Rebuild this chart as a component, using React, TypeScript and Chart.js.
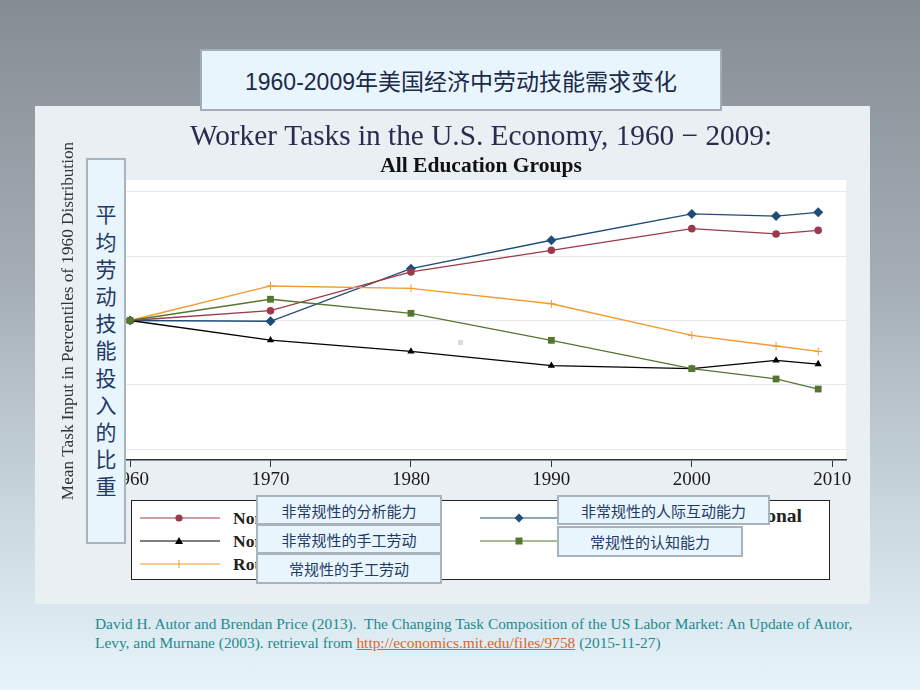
import React, { useEffect, useRef } from "react";
import { Chart, registerables } from "chart.js";

Chart.register(...registerables);

// ---- data ----
const years = [1960, 1970, 1980, 1990, 2000, 2006, 2009];
const nonroutineAnalytic = [50, 50.76, 53.77, 55.45, 57.13, 56.72, 57.0];
const nonroutineInterpersonal = [50, 49.94, 54.02, 56.23, 58.27, 58.11, 58.4];
const routineCognitive = [50, 51.65, 50.56, 48.46, 46.26, 45.46, 44.68];
const routineManual = [50, 52.68, 52.5, 51.3, 48.85, 48.02, 47.6];
const nonroutineManual = [50, 48.48, 47.6, 46.49, 46.26, 46.9, 46.62];
const xTickValues = [1960, 1970, 1980, 1990, 2000, 2010];
const yTickValues = [40, 45, 50, 55, 60];

const chartTitle = "Worker Tasks in the U.S. Economy, 1960 \u2212 2009:";
const chartSubtitle = "All Education Groups";
const yAxisTitle = "Mean Task Input in Percentiles of 1960 Distribution";
const slideTitle = "1960-2009年美国经济中劳动技能需求变化";
const sideLabel = "平均劳动技能投入的比重";

const seriesNames = {
  analytic: "Nonroutine Analytic",
  interpersonal: "Nonroutine Interpersonal",
  nrManual: "Nonroutine Manual",
  cognitive: "Routine Cognitive",
  rManual: "Routine Manual",
};

const COLORS = {
  analytic: "#9b3a4a",
  interpersonal: "#1f4c78",
  nrManual: "#000000",
  cognitive: "#55762f",
  rManual: "#f29a2e",
};

const toPoints = (vals: number[]) => vals.map((v, i) => ({ x: years[i], y: v }));

const serifFont = "'Liberation Serif', 'Times New Roman', serif";
const cjkFont = "'Liberation Sans', 'Noto Sans CJK SC', sans-serif";

function LegendSample({ color, shape }: { color: string; shape: string }) {
  let marker: React.ReactNode = null;
  if (shape === "circle") marker = <circle cx={39} cy={8} r={3.6} fill={color} />;
  if (shape === "diamond") marker = <polygon points="39,3.5 43.5,8 39,12.5 34.5,8" fill={color} />;
  if (shape === "triangle") marker = <polygon points="39,4 43,11 35,11" fill={color} />;
  if (shape === "square") marker = <rect x={35.5} y={4.5} width={7} height={7} fill={color} />;
  if (shape === "plus")
    marker = <line x1={39} y1={4} x2={39} y2={12} stroke={color} strokeWidth={1} />;
  return (
    <svg width={80} height={16} style={{ display: "block" }}>
      <line x1={0} y1={8} x2={80} y2={8} stroke={color} strokeWidth={1.2} />
      {marker}
    </svg>
  );
}

const cnBox: React.CSSProperties = {
  position: "absolute",
  boxSizing: "border-box",
  background: "#e9f5fd",
  border: "2px solid #a9b3bb",
  color: "#1f3a64",
  fontFamily: cjkFont,
  display: "flex",
  alignItems: "center",
  justifyContent: "center",
};

const legendText: React.CSSProperties = {
  fontFamily: serifFont,
  fontWeight: "bold",
  fontSize: 17.5,
  color: "#222222",
  lineHeight: "16px",
  whiteSpace: "nowrap",
};

export default function App() {
  const canvasRef = useRef<HTMLCanvasElement | null>(null);

  useEffect(() => {
    if (!canvasRef.current) return;
    const plotBg = {
      id: "plotBg",
      beforeDraw(chart: any) {
        const { ctx, chartArea } = chart;
        ctx.save();
        ctx.fillStyle = "#ffffff";
        ctx.fillRect(chartArea.left, chartArea.top - 2, chartArea.right - chartArea.left, chartArea.bottom - chartArea.top + 2);
        ctx.restore();
      },
    };
    const mk = (label: string, data: number[], color: string, pointStyle: string, radius: number) => ({
      label,
      data: toPoints(data),
      borderColor: color,
      backgroundColor: color,
      pointBackgroundColor: color,
      pointBorderColor: color,
      borderWidth: 1.3,
      pointStyle,
      pointRadius: radius,
      pointBorderWidth: pointStyle === "cross" ? 1 : 0,
      tension: 0,
      fill: false,
    });
    const chart = new Chart(canvasRef.current, {
      type: "line",
      data: {
        datasets: [
          mk(seriesNames.cognitive, routineCognitive, COLORS.cognitive, "rect", 4.8),
          mk(seriesNames.nrManual, nonroutineManual, COLORS.nrManual, "triangle", 4.2),
          mk(seriesNames.rManual, routineManual, COLORS.rManual, "cross", 4),
          mk(seriesNames.analytic, nonroutineAnalytic, COLORS.analytic, "circle", 3.8),
          mk(seriesNames.interpersonal, nonroutineInterpersonal, COLORS.interpersonal, "rectRot", 5),
        ] as any,
      },
      options: {
        responsive: false,
        animation: false,
        devicePixelRatio: 1,
        layout: { padding: 0 },
        plugins: {
          legend: { display: false },
          tooltip: { enabled: false },
          title: {
            display: true,
            text: chartTitle,
            color: "#2b2b4f",
            font: { family: serifFont, size: 29.3, weight: "normal", lineHeight: 1.1 },
            padding: { top: 15, bottom: 0 },
          },
          subtitle: {
            display: true,
            text: chartSubtitle,
            color: "#111111",
            font: { family: serifFont, size: 21.5, weight: "bold", lineHeight: 1.2 },
            padding: { top: 0, bottom: 3 },
          },
        },
        scales: {
          x: {
            type: "linear",
            min: 1959.64,
            max: 2010.98,
            afterBuildTicks: (s: any) => {
              s.ticks = xTickValues.map((v) => ({ value: v }));
            },
            afterFit: (s: any) => {
              s.height = 46;
            },
            grid: { drawOnChartArea: false, drawTicks: true, tickLength: 7, color: "#333333", lineWidth: 1 },
            border: { display: true, color: "#333333", width: 1.5 },
            ticks: {
              color: "#1a1a1a",
              padding: 1.5,
              maxRotation: 0,
              autoSkip: false,
              font: { family: serifFont, size: 19 },
              callback: (v: any) => String(v),
            },
          },
          y: {
            type: "linear",
            min: 39.17,
            max: 60.75,
            afterBuildTicks: (s: any) => {
              s.ticks = yTickValues.map((v) => ({ value: v }));
            },
            afterFit: (s: any) => {
              s.width = 83;
            },
            grid: { color: "#e6eaed", lineWidth: 1, drawTicks: false },
            border: { display: false },
            ticks: { display: false },
            title: {
              display: true,
              text: yAxisTitle,
              color: "#333333",
              font: { family: serifFont, size: 17.2, lineHeight: 1.2 },
              padding: { top: 16.5, bottom: 0 },
            },
          },
          y2: {
            type: "linear",
            position: "right",
            display: true,
            afterFit: (s: any) => {
              s.width = 74;
            },
            grid: { display: false, drawTicks: false },
            border: { display: false },
            ticks: { display: false },
          },
        },
      } as any,
      plugins: [plotBg],
    });
    return () => chart.destroy();
  }, []);

  const legendRows = [
    [
      { key: "analytic", shape: "circle" },
      { key: "interpersonal", shape: "diamond" },
    ],
    [
      { key: "nrManual", shape: "triangle" },
      { key: "cognitive", shape: "square" },
    ],
    [{ key: "rManual", shape: "plus" }],
  ];

  return (
    <div
      style={{
        position: "fixed",
        left: 0,
        top: 0,
        width: 920,
        height: 690,
        overflow: "hidden",
        background: "linear-gradient(to bottom, #858c94 0%, #a4adb5 40%, #cbd8e0 75%, #e6f4fc 100%)",
      }}
    >
      {/* embedded chart image area */}
      <div style={{ position: "absolute", left: 35, top: 106, width: 835, height: 498, background: "#e9eff2" }} />

      <canvas
        ref={canvasRef}
        width={878}
        height={400}
        style={{ position: "absolute", left: 42, top: 106, width: 878, height: 400 }}
      />

      {/* small gray artifact */}
      <div style={{ position: "absolute", left: 458, top: 340, width: 5, height: 5, background: "#dcdcdc" }} />

      {/* legend */}
      <div
        style={{
          position: "absolute",
          left: 131,
          top: 500,
          width: 699,
          height: 80,
          boxSizing: "border-box",
          background: "#ffffff",
          border: "1px solid #222222",
        }}
      >
        {legendRows.map((row, ri) =>
          row.map((item, ci) => (
            <React.Fragment key={item.key}>
              <div
                style={{
                  position: "absolute",
                  left: ci === 0 ? 8 : 348,
                  top: 9 + ri * 23,
                  height: 16,
                  display: "flex",
                  alignItems: "center",
                }}
              >
                <LegendSample color={(COLORS as any)[item.key]} shape={item.shape} />
                {!(ci === 1 && ri === 0) && (
                  <span style={{ ...legendText, marginLeft: 13 }}>{(seriesNames as any)[item.key]}</span>
                )}
              </div>
              {ci === 1 && ri === 0 && (
                <div
                  style={{
                    position: "absolute",
                    left: 380,
                    right: 27,
                    top: 3,
                    height: 20,
                    overflow: "hidden",
                    textAlign: "right",
                  }}
                >
                  <span style={{ ...legendText, fontSize: 19.5, lineHeight: "20px", display: "inline-block", marginTop: 2 }}>
                    {(seriesNames as any)[item.key]}
                  </span>
                </div>
              )}
            </React.Fragment>
          ))
        )}
      </div>

      {/* Chinese overlays for legend */}
      <div style={{ ...cnBox, left: 256, top: 495, width: 186, height: 30, fontSize: 15 }}>非常规性的分析能力</div>
      <div style={{ ...cnBox, left: 256, top: 524, width: 186, height: 30, fontSize: 15 }}>非常规性的手工劳动</div>
      <div style={{ ...cnBox, left: 256, top: 553, width: 186, height: 31, fontSize: 15 }}>常规性的手工劳动</div>
      <div style={{ ...cnBox, left: 557, top: 495, width: 213, height: 30, fontSize: 15 }}>非常规性的人际互动能力</div>
      <div style={{ ...cnBox, left: 557, top: 526, width: 186, height: 31, fontSize: 15 }}>常规性的认知能力</div>

      {/* side vertical label */}
      <div
        style={{
          ...cnBox,
          left: 86,
          top: 158,
          width: 40,
          height: 386,
          flexDirection: "column",
          fontSize: 21,
        }}
      >
        {Array.from(sideLabel).map((ch, i) => (
          <div key={i} style={{ lineHeight: "27.2px", height: 27.2 }}>
            {ch}
          </div>
        ))}
      </div>

      {/* slide title */}
      <div
        style={{
          ...cnBox,
          left: 200,
          top: 49,
          width: 522,
          height: 62,
          border: "2px solid #a3adb5",
          fontSize: 23,
          color: "#1c2a4a",
        }}
      >
        {slideTitle}
      </div>

      {/* citation */}
      <div
        style={{
          position: "absolute",
          left: 95,
          top: 614,
          width: 800,
          fontFamily: serifFont,
          fontSize: 15.4,
          lineHeight: "19px",
          color: "#1f8a8a",
          whiteSpace: "nowrap",
        }}
      >
        David H. Autor and Brendan Price (2013).&nbsp; The Changing Task Composition of the US Labor Market: An Update of Autor,
        <br />
        Levy, and Murnane (2003). retrieval from{" "}
        <span style={{ color: "#e0641c", textDecoration: "underline" }}>http://economics.mit.edu/files/9758</span> (2015-11-27)
      </div>
    </div>
  );
}
